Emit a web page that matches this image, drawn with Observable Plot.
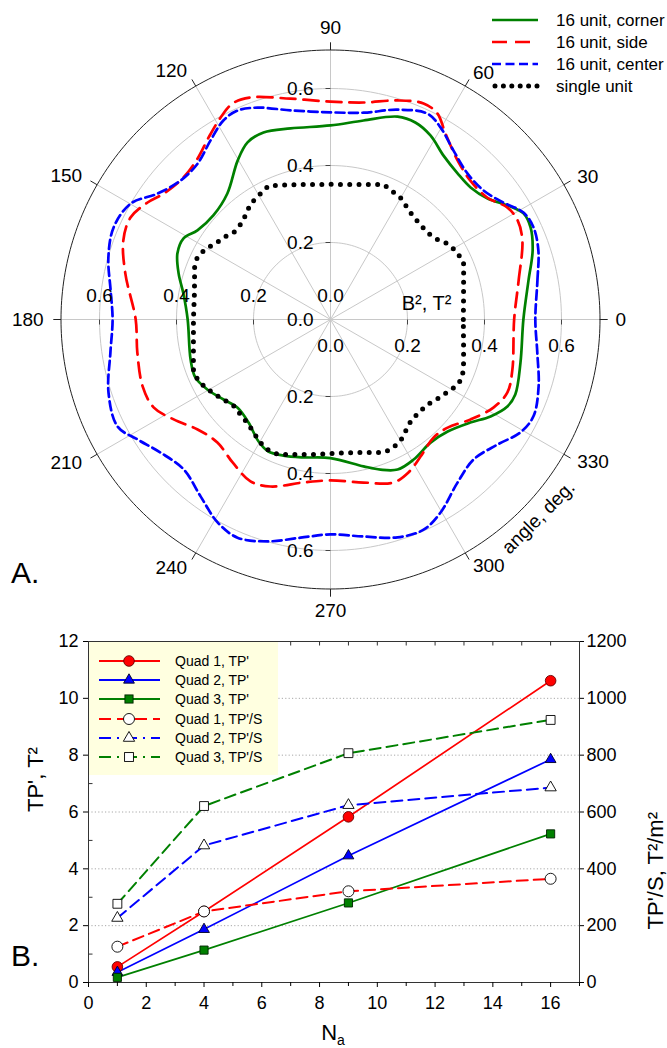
<!DOCTYPE html>
<html>
<head>
<meta charset="utf-8">
<script src="https://cdn.jsdelivr.net/npm/d3@7"></script>
<script src="https://cdn.jsdelivr.net/npm/@observablehq/plot@0.6"></script>
<style>
  html, body { margin:0; padding:0; background:#fff; }
  #page { position:relative; width:667px; height:1048px; overflow:hidden; background:#fff; }
  #page svg { position:absolute; left:0; }
</style>
</head>
<body>
<div id="page"></div>
<script>
// ================= Panel A data (polar, angle in degrees, B^2 in T^2) =================
const seriesNamesA = ["16 unit, corner", "16 unit, side", "16 unit, center", "single unit"];

const cornerAngle = [0,11.1,18.9,24.7,28.8,32.8,37.6,43.3,49,55.4,61.5,66.7,71.7,80.6,90,101.8,109.7,115.1,120.3,129.3,138.4,146.2,151.1,156.7,163.2,170,180,196,203.2,209.6,216.8,223.4,231.5,239.5,244.8,250.9,258.9,270,282.7,288.4,294.1,300.7,309.1,316.3,323.6,328.8,333.8,337.9,347.2];
const cornerR = [0.501,0.524,0.555,0.572,0.572,0.547,0.515,0.500,0.503,0.517,0.544,0.557,0.555,0.524,0.504,0.507,0.516,0.508,0.478,0.423,0.407,0.416,0.436,0.433,0.412,0.388,0.371,0.378,0.382,0.368,0.347,0.333,0.342,0.368,0.379,0.374,0.365,0.360,0.391,0.411,0.427,0.423,0.412,0.421,0.451,0.486,0.512,0.518,0.506];

const sideAngle = [0,11.7,22.4,27.9,32.3,37.8,44.8,51.4,58.3,62.6,66.7,73,81.4,90,100.3,109.8,114.4,118.6,123.8,129.6,136,143,147.4,153,159.1,167.4,180,189.7,199.6,206.4,212.5,219.6,227.4,235.6,243.7,250.2,260.6,270,281.4,291.1,297,303.3,311.1,317.3,324.5,331.6,337.6,344.6];
const sideR = [0.477,0.499,0.539,0.550,0.544,0.516,0.512,0.529,0.568,0.603,0.611,0.595,0.570,0.566,0.583,0.613,0.616,0.597,0.569,0.542,0.531,0.543,0.564,0.583,0.576,0.546,0.506,0.509,0.518,0.513,0.483,0.448,0.434,0.450,0.469,0.461,0.429,0.418,0.432,0.454,0.446,0.426,0.407,0.414,0.447,0.481,0.497,0.490];

const centerAngle = [0,10.7,18.4,24.4,29,34.1,40.1,46.8,54,60.2,64.8,72.3,80.9,90,100.8,109,114,118.3,123.8,130.5,137.2,144,149.9,157,164.4,172.5,180,188.5,198.2,206.7,211.9,218,225.6,233.7,240.9,246.9,254.2,262.2,270,278.6,287.1,293.9,299.7,307.9,315.6,323.2,329.3,334.5,342.1,350.9];
const centerR = [0.532,0.547,0.569,0.579,0.573,0.542,0.520,0.520,0.543,0.575,0.591,0.572,0.544,0.538,0.553,0.582,0.594,0.587,0.560,0.532,0.531,0.556,0.600,0.612,0.599,0.576,0.566,0.578,0.607,0.619,0.590,0.561,0.545,0.570,0.603,0.616,0.599,0.572,0.558,0.570,0.592,0.597,0.577,0.537,0.520,0.542,0.574,0.584,0.568,0.544];

const singleAngle = [0,8.1,19.1,23.2,28.4,33,36.8,41.9,51.7,60.2,68.6,77.5,90,102.5,114.8,119.1,124.7,132.2,137.9,142.4,146.6,150.5,155,159,169,180,192.7,200,204.3,208.5,213.1,216.8,221.6,226.5,232,235.7,240.4,244.7,248.9,256.3,264.5,270,282.7,291.4,294.8,299.8,303.8,308.1,312.8,318.8,323,327.2,331.3,335.4,339.4,346.9];
const singleR = [0.345,0.349,0.366,0.376,0.372,0.362,0.347,0.338,0.344,0.365,0.377,0.359,0.351,0.359,0.383,0.374,0.365,0.341,0.338,0.350,0.358,0.373,0.382,0.378,0.360,0.356,0.365,0.379,0.379,0.370,0.357,0.347,0.337,0.340,0.346,0.355,0.368,0.376,0.376,0.361,0.352,0.348,0.354,0.371,0.372,0.365,0.350,0.337,0.333,0.335,0.345,0.355,0.367,0.374,0.369,0.355];

const ringValues = [0.2, 0.4, 0.6];
const outerRadius = 0.7;
const angleTicks = [0,30,60,90,120,150,180,210,240,270,300,330];
const radialLabels = [0, 0.2, 0.4, 0.6];

// ================= Panel B data =================
const seriesNamesB = ["Quad 1, TP'", "Quad 2, TP'", "Quad 3, TP'", "Quad 1, TP'/S", "Quad 2, TP'/S", "Quad 3, TP'/S"];
const naValues = [1, 4, 9, 16];
const quad1TP = [0.55, 2.50, 5.83, 10.62];
const quad2TP = [0.36, 1.87, 4.46, 7.85];
const quad3TP = [0.18, 1.14, 2.80, 5.23];
const quad1TPS = [126, 250, 321, 365];
const quad2TPS = [227, 482, 624, 686];
const quad3TPS = [277, 621, 807, 924];
const leftTicks = [0, 2, 4, 6, 8, 10, 12];
const rightTicks = [0, 200, 400, 600, 800, 1000, 1200];
const xTicks = [0, 2, 4, 6, 8, 10, 12, 14, 16];

// ================= rendering =================
const FONT = "'Liberation Sans', Arial, Helvetica, sans-serif";
const page = document.getElementById("page");
const rad = a => a * Math.PI / 180;
const px = (a, r) => r * Math.cos(rad(a));
const py = (a, r) => r * Math.sin(rad(a));
const toRows = (angles, radii) => angles.map((a, i) => ({a, r: radii[i]}));
const fmt1 = d3.format(".1f");

// ---------- Panel A ----------
const PW = 667, PH = 620, CX = 330, CY = 319, PXU = 385; // layout: px per unit
const tk = 5 / PXU;
const pos = {x: d => px(d.a, d.r), y: d => py(d.a, d.r)};
const ringPts = ringValues.flatMap(v => d3.range(0, 361, 2).map(a => ({a, r: v})));
const outerPts = d3.range(0, 361, 1).map(a => ({a, r: outerRadius}));
const isVert = a => a === 90 || a === 270;

const polar = Plot.plot({
  width: PW, height: PH, margin: 0,
  style: {fontFamily: FONT, background: "transparent", color: "#000"},
  x: {domain: [-CX / PXU, (PW - CX) / PXU], axis: null},
  y: {domain: [-(PH - CY) / PXU, CY / PXU], axis: null},
  marks: [
    Plot.line(ringPts, {...pos, z: "r", stroke: "#c8c8c8", strokeWidth: 1}),
    Plot.link(angleTicks, {x1: 0, y1: 0, x2: a => px(a, outerRadius), y2: a => py(a, outerRadius), stroke: "#c8c8c8", strokeWidth: 1}),
    Plot.line(outerPts, {...pos, stroke: "#222", strokeWidth: 1}),
    Plot.link(angleTicks, {x1: a => px(a, outerRadius), y1: a => py(a, outerRadius), x2: a => px(a, outerRadius + 0.02), y2: a => py(a, outerRadius + 0.02), stroke: "#222", strokeWidth: 1}),
    // radial axis ticks
    Plot.link(ringValues.flatMap(v => [v, -v]), {x1: -tk, x2: 0, y1: v => v, y2: v => v, stroke: "#444"}),
    Plot.link(ringValues.flatMap(v => [v, -v]), {x1: v => v, x2: v => v, y1: 0, y2: -tk, stroke: "#444"}),
    // curves
    Plot.line(toRows(cornerAngle, cornerR), {...pos, curve: "catmull-rom-closed", stroke: "#008000", strokeWidth: 2.7}),
    Plot.line(toRows(sideAngle, sideR), {...pos, curve: "catmull-rom-closed", stroke: "#ff0000", strokeWidth: 2.7, strokeDasharray: "15,8"}),
    Plot.line(toRows(centerAngle, centerR), {...pos, curve: "catmull-rom-closed", stroke: "#0000ff", strokeWidth: 2.7, strokeDasharray: "9,4.5"}),
    Plot.line(toRows(singleAngle, singleR), {...pos, curve: "linear-closed", stroke: "#000", strokeWidth: 5, strokeLinecap: "round", strokeDasharray: "0,9.3"}),
    // angle labels
    Plot.text(angleTicks.filter(isVert), {x: a => px(a, 0.757), y: a => py(a, 0.757), text: d => String(d), textAnchor: "middle", fontSize: 19}),
    Plot.text(angleTicks.filter(a => !isVert(a) && Math.cos(rad(a)) > 0), {x: a => px(a, 0.74), y: a => py(a, 0.74), text: d => String(d), textAnchor: "start", fontSize: 19}),
    Plot.text(angleTicks.filter(a => !isVert(a) && Math.cos(rad(a)) < 0), {x: a => px(a, 0.745), y: a => py(a, 0.745), text: d => String(d), textAnchor: "end", fontSize: 19}),
    // radial labels
    Plot.text(radialLabels, {x: 0, y: v => v, text: fmt1, textAnchor: "end", dx: -17, fontSize: 19}),
    Plot.text(radialLabels.slice(1), {x: 0, y: v => -v, text: fmt1, textAnchor: "end", dx: -17, fontSize: 19}),
    Plot.text(radialLabels, {x: v => -v, y: 0, text: fmt1, dy: -24, fontSize: 19}),
    Plot.text(radialLabels, {x: v => v, y: 0, text: fmt1, dy: 26, fontSize: 19}),
    Plot.text(["B², T²"], {x: 0, y: 0, dx: 96, dy: -16, fontSize: 20}),
    Plot.text(["angle, deg."], {x: 0, y: 0, dx: 208, dy: 198, rotate: -45, fontSize: 19})
  ]
});
polar.style.top = "0px";
page.appendChild(polar);

// ---------- Panel B ----------
const BW = 667, BH = 428, BTOP = 620;
const mT = 21, mB = 66, mL = 88, mR = 88;
const yMax = 12, xMax = 17, rightScale = 1200 / 12;
const unitsPerPxY = yMax / (BH - mT - mB), unitsPerPxX = xMax / (BW - mL - mR);
const specB = [
  {name: seriesNamesB[0], vals: quad1TP, div: 1, color: "#ff0000", sym: "circle", r: 5.3, fill: "#ff0000", stroke: "#600", dash: null},
  {name: seriesNamesB[1], vals: quad2TP, div: 1, color: "#0000ff", sym: "triangle", r: 4.0, fill: "#0000ff", stroke: "#002", dash: null},
  {name: seriesNamesB[2], vals: quad3TP, div: 1, color: "#008000", sym: "square", r: 4.6, fill: "#008000", stroke: "#020", dash: null},
  {name: seriesNamesB[3], vals: quad1TPS, div: rightScale, color: "#ff0000", sym: "circle", r: 5.5, fill: "#fff", stroke: "#000", dash: "11,6"},
  {name: seriesNamesB[4], vals: quad2TPS, div: rightScale, color: "#0000ff", sym: "triangle", r: 4.2, fill: "#fff", stroke: "#000", dash: "11,6"},
  {name: seriesNamesB[5], vals: quad3TPS, div: rightScale, color: "#008000", sym: "square", r: 5.0, fill: "#fff", stroke: "#000", dash: "11,6"}
];
const rowsFor = s => naValues.map((n, i) => ({n, v: s.vals[i] / s.div}));
const lineMarks = specB.map(s => Plot.line(rowsFor(s), {x: "n", y: "v", stroke: s.color, strokeWidth: s.dash ? 2 : 1.7, strokeDasharray: s.dash}));
const dotMarks = specB.map(s => Plot.dot(rowsFor(s), {x: "n", y: "v", symbol: s.sym, r: s.r, fill: s.fill, stroke: s.stroke, strokeWidth: 0.9}));
const minorX = d3.range(0, 18, 1);
const minorY = [1, 3, 5, 7, 9, 11];

const chartB = Plot.plot({
  width: BW, height: BH, marginTop: mT, marginBottom: mB, marginLeft: mL, marginRight: mR,
  style: {fontFamily: FONT, background: "transparent", color: "#000"},
  x: {domain: [0, xMax]},
  y: {domain: [0, yMax]},
  marks: [
    Plot.ruleY(leftTicks.filter(v => v > 0 && v < yMax), {stroke: "#a8a8a8", strokeDasharray: "1.2,2.2"}),
    ...lineMarks,
    ...dotMarks,
    Plot.frame({stroke: "#333"}),
    Plot.axisX({ticks: xTicks, tickSize: 5, tickPadding: 9, fontSize: 18, label: null}),
    Plot.axisX({ticks: minorX.filter(v => v % 2 === 1), tickSize: 4, tickFormat: () => "", label: null}),
    Plot.link(minorX, {x1: d => d, x2: d => d, y1: yMax, y2: yMax - 4 * unitsPerPxY, stroke: "#333"}),
    Plot.axisY({anchor: "left", ticks: leftTicks, tickSize: 5, tickPadding: 5, fontSize: 18, label: null}),
    Plot.link(minorY, {x1: 0, x2: 4 * unitsPerPxX, y1: d => d, y2: d => d, stroke: "#333"}),
    Plot.axisY({anchor: "right", ticks: rightTicks.map(v => v / rightScale), tickFormat: d => String(Math.round(d * rightScale)), tickSize: 4, tickPadding: 3, fontSize: 18, label: null}),
    Plot.text(["TP', T²"], {frameAnchor: "left", dx: -53, rotate: -90, fontSize: 22}),
    Plot.text(["TP'/S, T²/m²"], {frameAnchor: "right", dx: 76, rotate: -90, fontSize: 22})
  ]
});
chartB.style.top = BTOP + "px";
page.appendChild(chartB);

// ---------- overlay: legends, panel letters, x label ----------
const ns = "http://www.w3.org/2000/svg";
const ov = document.createElementNS(ns, "svg");
ov.setAttribute("width", 667); ov.setAttribute("height", 1048);
ov.setAttribute("font-family", FONT);
ov.style.top = "0px"; ov.style.pointerEvents = "none";
let html = "";
// legend A
const legA = [
  {stroke: "#008000", dash: "none", w: 2.7, cap: "butt", x0: 492, x1: 538},
  {stroke: "#ff0000", dash: "15,8", w: 2.7, cap: "butt", x0: 492, x1: 538},
  {stroke: "#0000ff", dash: "9,4.5", w: 2.7, cap: "butt", x0: 492, x1: 538},
  {stroke: "#000", dash: "0,8.4", w: 5, cap: "round", x0: 495, x1: 538}
];
const legAy = [20, 42, 64, 86];
legA.forEach((s, i) => {
  const y = legAy[i];
  html += `<line x1="${s.x0}" x2="${s.x1}" y1="${y}" y2="${y}" stroke="${s.stroke}" stroke-width="${s.w}" stroke-dasharray="${s.dash}" stroke-linecap="${s.cap}"/>`;
  html += `<text x="556" y="${y}" dy="0.35em" font-size="17">${seriesNamesA[i]}</text>`;
});
// legend B
html += `<rect x="89" y="642" width="189" height="133" fill="#ffffe0"/>`;
const legBy = [661, 680, 699, 719, 738, 757];
const legDash = [null, null, null, "12,6", "12,6,2,6", "12,6,2,6"];
const sym = (s, x, y) => {
  if (s.sym === "circle") return `<circle cx="${x}" cy="${y}" r="${s.r}" fill="${s.fill}" stroke="${s.stroke}" stroke-width="0.9"/>`;
  if (s.sym === "square") { const h = s.r * 0.886; return `<rect x="${x-h}" y="${y-h}" width="${2*h}" height="${2*h}" fill="${s.fill}" stroke="${s.stroke}" stroke-width="0.9"/>`; }
  const t = s.r * 1.35; return `<path d="M${x},${y - t*1.15}L${x + t},${y + t*0.58}L${x - t},${y + t*0.58}Z" fill="${s.fill}" stroke="${s.stroke}" stroke-width="0.9"/>`;
};
specB.forEach((s, i) => {
  const y = legBy[i];
  html += `<line x1="99" x2="160" y1="${y}" y2="${y}" stroke="${s.color}" stroke-width="${s.dash ? 2 : 1.8}" ${legDash[i] ? `stroke-dasharray="${legDash[i]}"` : ""}/>`;
  html += sym(s, 129, y);
  html += `<text x="175" y="${y}" dy="0.35em" font-size="14">${s.name}</text>`;
});
html += `<text x="11" y="583" font-size="30">A.</text>`;
html += `<text x="11" y="966" font-size="30">B.</text>`;
html += `<text x="333" y="1040" text-anchor="middle" font-size="22">N<tspan font-size="14" dy="5">a</tspan></text>`;
ov.innerHTML = html;
page.appendChild(ov);
</script>
</body>
</html>
